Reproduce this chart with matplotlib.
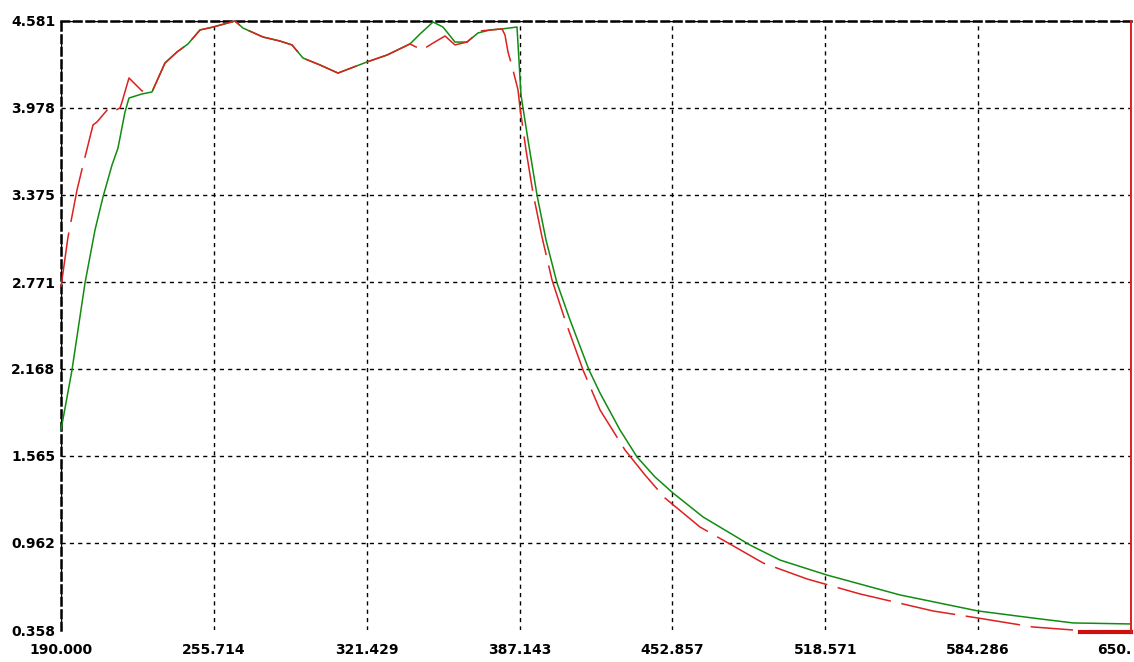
import matplotlib
matplotlib.use('Agg')
import matplotlib.pyplot as plt

# green curve (solid)
green_x = [190.00, 194.73, 200.32, 204.62, 208.06, 211.93, 214.50, 217.51, 219.23, 224.82, 229.12,
           234.71, 239.87, 244.60, 249.76, 255.35, 264.80, 268.24, 276.84, 284.15, 289.31, 294.04,
           301.35, 309.09, 321.55, 330.15, 340.04,
           344.34, 349.93, 354.23, 359.38, 364.54, 369.27, 374.43, 379.59, 386.04,
           387.76, 390.77, 394.64, 398.51, 403.24, 408.83, 417.00, 421.73, 430.32, 437.63,
           445.37, 453.11, 466.00, 486.21, 499.11, 519.31, 550.70, 584.23, 607.87, 625.07, 649.57]
green_y = [1.745, 2.161, 2.764, 3.132, 3.361, 3.582, 3.700, 3.950, 4.047, 4.075, 4.089,
           4.290, 4.366, 4.422, 4.519, 4.539, 4.581, 4.532, 4.470, 4.442, 4.415, 4.324,
           4.276, 4.220, 4.297, 4.345, 4.422,
           4.491, 4.574, 4.539, 4.435, 4.435, 4.498, 4.519, 4.526, 4.539,
           4.068, 3.756, 3.374, 3.062, 2.764, 2.508, 2.161, 2.001, 1.745, 1.558,
           1.419, 1.308, 1.142, 0.947, 0.843, 0.739, 0.601, 0.490, 0.441, 0.407, 0.400]

# red curve (long dashes)
red_x = [190.00, 193.01, 196.88, 199.46, 201.61, 203.76, 205.48, 210.21, 211.93, 215.37, 216.22,
         219.23, 224.82, 229.12,
         234.71, 239.87, 244.60, 249.76, 255.35, 264.80, 268.24, 276.84, 284.15, 289.31, 294.04,
         301.35, 309.09, 321.55, 330.15, 340.04,
         345.20, 349.93, 355.09, 359.38, 364.54, 370.13, 379.59, 380.88, 382.17, 384.32, 386.47,
         387.33, 389.91, 392.92, 396.79, 401.09, 406.68, 414.42, 421.73, 432.47, 441.07, 449.67,
         464.71, 477.61, 491.80, 510.71, 533.50, 564.88, 584.23, 607.87, 625.07]
red_y = [2.737, 3.083, 3.409, 3.582, 3.721, 3.860, 3.881, 3.971, 3.950, 3.978, 4.019,
         4.186, 4.096, 4.089,
         4.290, 4.366, 4.422, 4.519, 4.539, 4.581, 4.532, 4.470, 4.442, 4.415, 4.324,
         4.276, 4.220, 4.297, 4.345, 4.422,
         4.380, 4.428, 4.477, 4.415, 4.435, 4.512, 4.526, 4.484, 4.366, 4.241, 4.103,
         3.978, 3.686, 3.388, 3.083, 2.785, 2.508, 2.161, 1.884, 1.606, 1.433, 1.273,
         1.072, 0.954, 0.823, 0.712, 0.608, 0.490, 0.441, 0.379, 0.358]

# red tail at the right edge
tail_x = [628.08, 650.0, 650.0]
tail_y = [0.345, 0.345, 4.581]

x_ticks = [190.0, 255.714, 321.429, 387.143, 452.857, 518.571, 584.286, 650.0]
x_labels = ['190.000', '255.714', '321.429', '387.143', '452.857', '518.571', '584.286', '650.']
y_ticks = [0.358, 0.962, 1.565, 2.168, 2.771, 3.375, 3.978, 4.581]
y_labels = ['0.358', '0.962', '1.565', '2.168', '2.771', '3.375', '3.978', '4.581']

fig = plt.figure(figsize=(11.34, 6.62), dpi=100)
ax = fig.add_axes([61/1134, 32/662, 1070/1134, 609/662])

ax.plot(green_x, green_y, color='#118c11', lw=1.1, clip_on=False, zorder=3)
ax.plot(red_x, red_y, color='#dd2020', lw=1.1, dashes=(36, 7), clip_on=False, zorder=4)
ax.plot(tail_x[:2], tail_y[:2], color='#cc1010', lw=3, clip_on=False, zorder=4)
ax.plot(tail_x[1:], tail_y[1:], color='#dd2020', lw=1.4, clip_on=False, zorder=4)

ax.set_xlim(190, 650)
ax.set_ylim(0.358, 4.581)
ax.set_xticks(x_ticks)
ax.set_xticklabels(x_labels)
ax.set_yticks(y_ticks)
ax.set_yticklabels(y_labels)
ax.tick_params(length=0, labelsize=10, pad=4)
ax.tick_params(axis='x', pad=9)
for lab in ax.get_xticklabels() + ax.get_yticklabels():
	lab.set_fontweight('bold')
ax.get_xticklabels()[-1].set_horizontalalignment('right')

ax.grid(True, color='black', linestyle=(0, (3, 3)), lw=1.0)
# no horizontal line along the bottom edge
ax.yaxis.get_gridlines()[0].set_visible(False)

ax.spines['right'].set_visible(False)
ax.spines['bottom'].set_visible(False)
ax.spines['left'].set_linestyle((0, (3, 2)))
ax.spines['left'].set_linewidth(1.8)
ax.spines['top'].set_linestyle((0, (3, 2)))
ax.spines['top'].set_linewidth(1.8)

fig.savefig('out.png', dpi=100)
